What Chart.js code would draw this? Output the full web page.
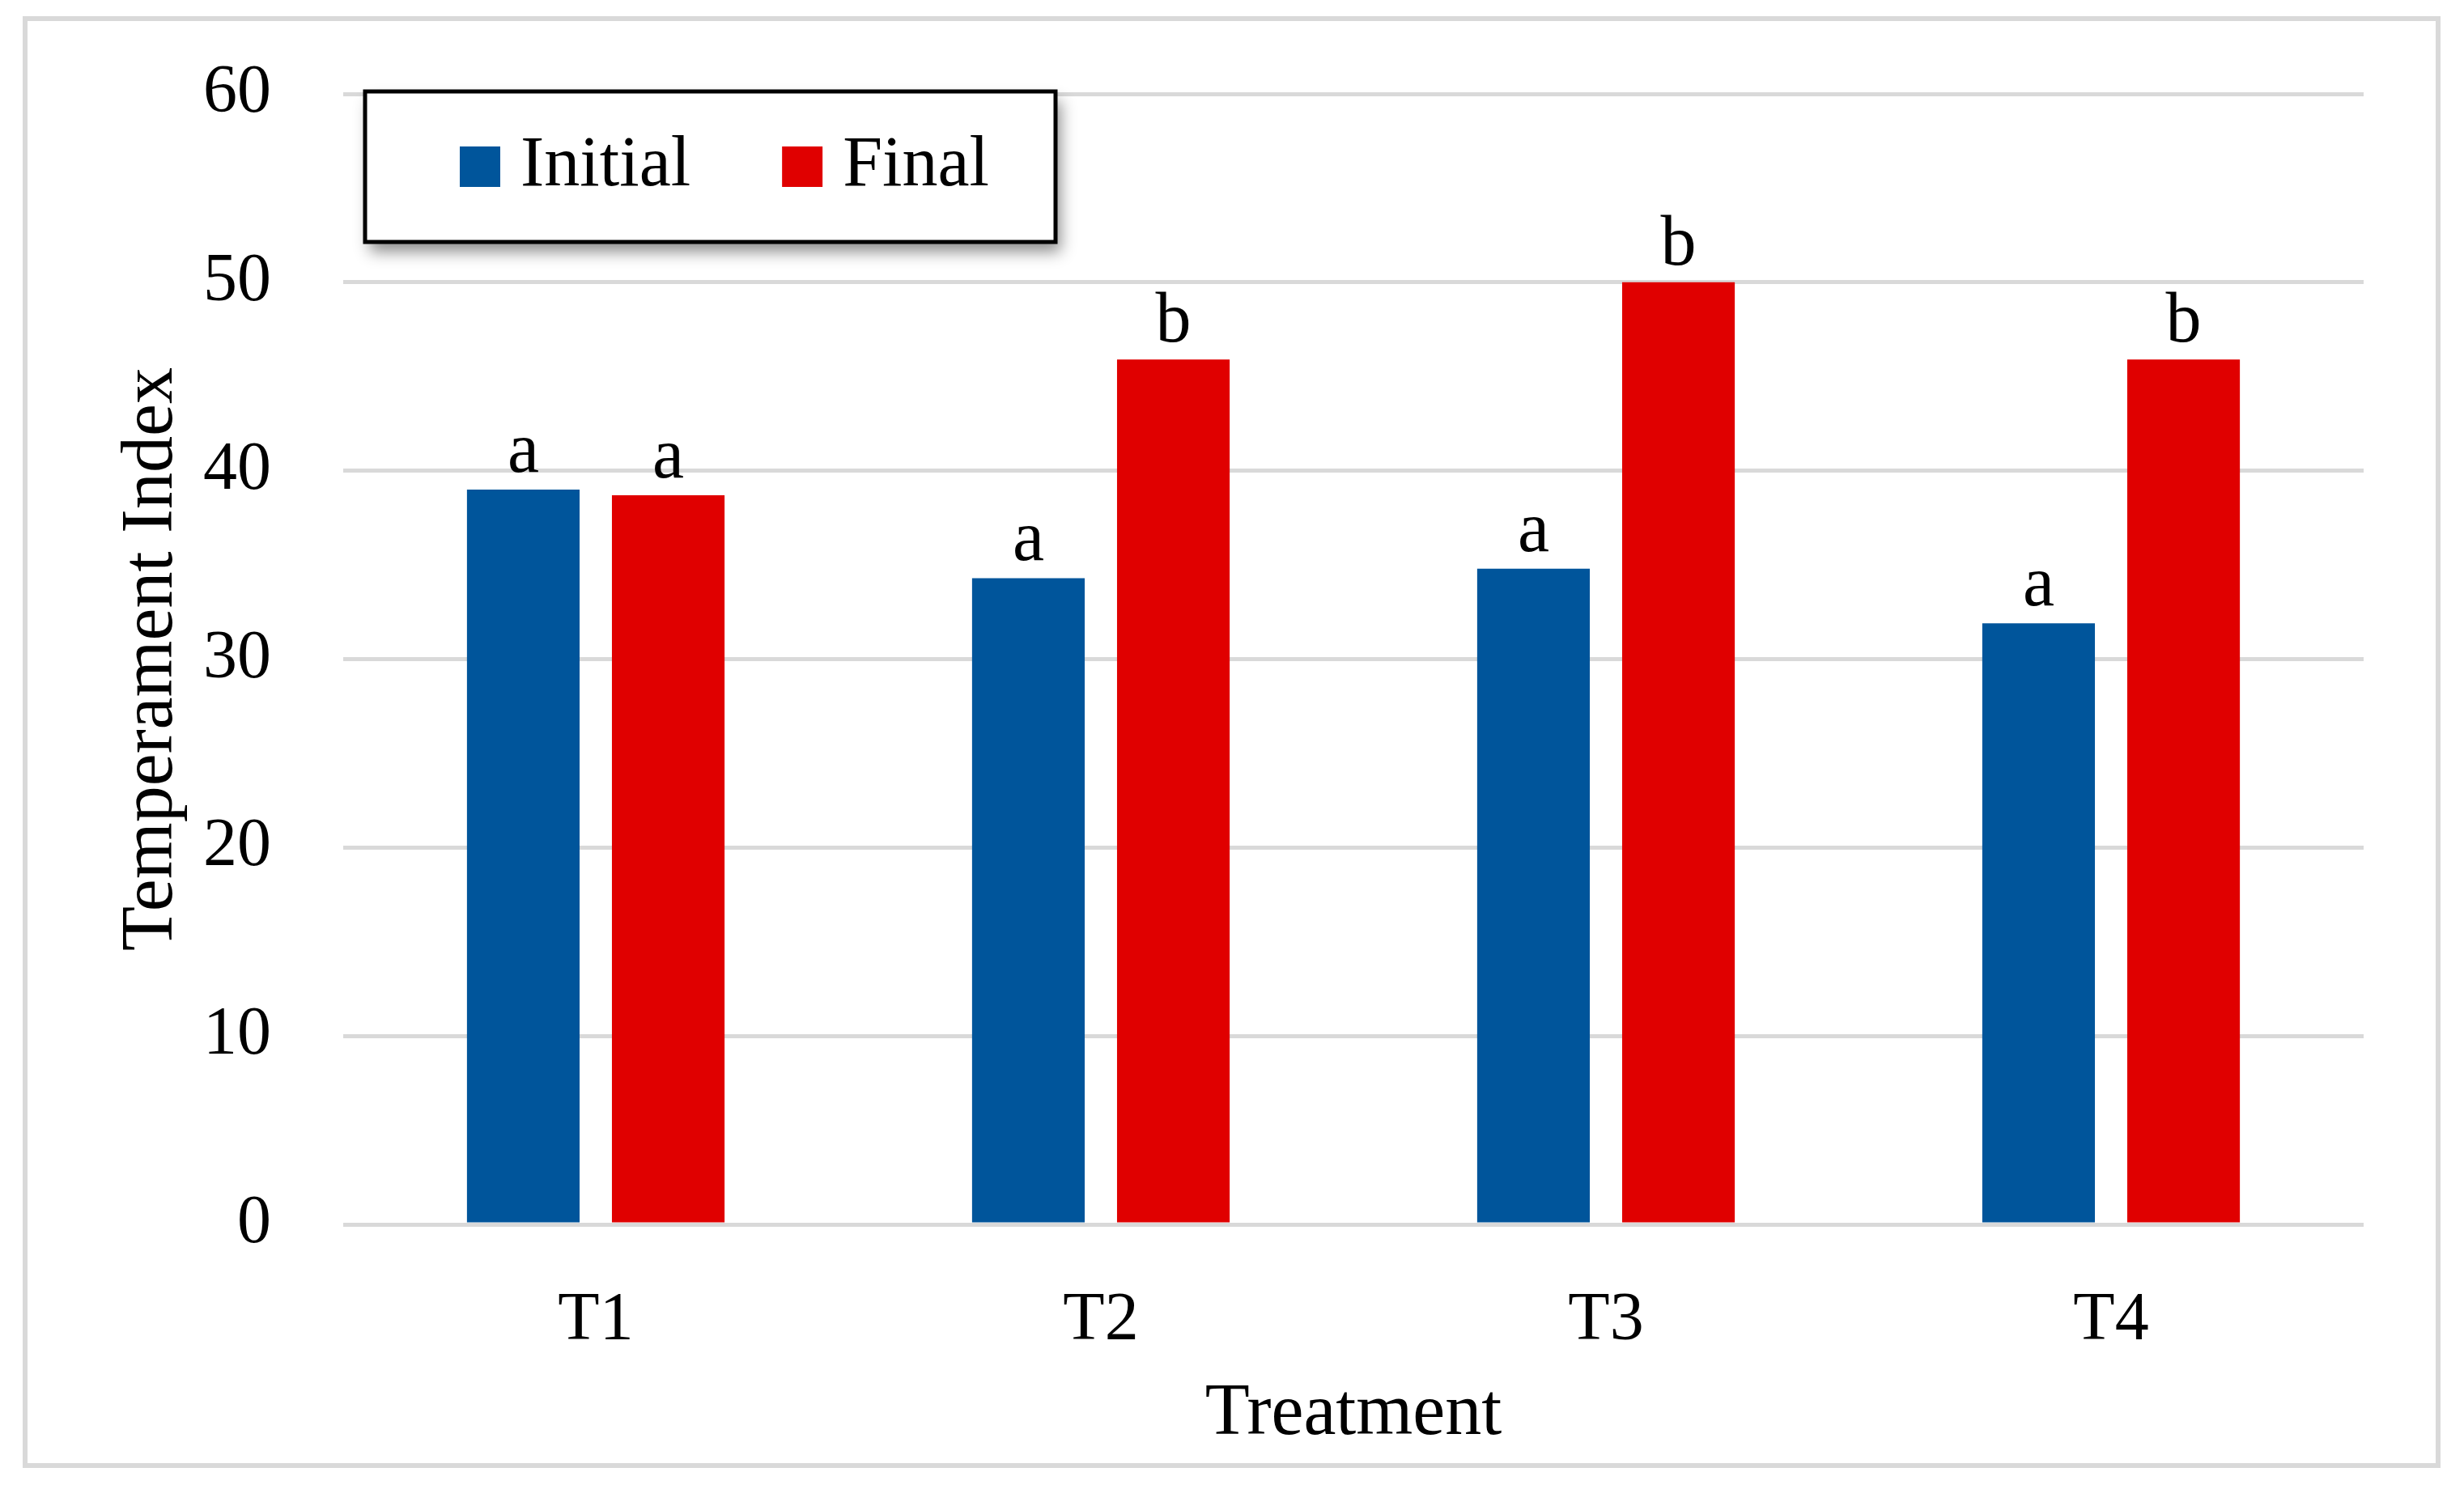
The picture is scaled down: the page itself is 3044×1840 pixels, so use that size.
<!DOCTYPE html>
<html>
<head>
<meta charset="utf-8">
<script src="https://cdn.jsdelivr.net/npm/chart.js@4.4.1/dist/chart.umd.min.js"></script>
<style>
  html, body { margin: 0; padding: 0; background: #ffffff; }
  canvas { display: block; }
</style>
</head>
<body>
<canvas id="barChart" width="3044" height="1840"></canvas>
<script>
// values
const treatments = ['T1', 'T2', 'T3', 'T4'];
const initialValues = [39.0, 34.3, 34.8, 31.9];
const finalValues = [38.7, 45.9, 50.0, 45.9];
const initialLetters = ['a', 'a', 'a', 'a'];
const finalLetters = ['a', 'b', 'b', 'b'];
const yTicks = [0, 10, 20, 30, 40, 50, 60];

const FONT = '"Liberation Serif", "DejaVu Serif", serif';
const BLUE = '#00559b';
const RED = '#e00000';
const GRID = '#d9d9d9';

// outer light grey frame + white background
const framePlugin = {
    id: 'frame',
    beforeDraw(chart) {
        const ctx = chart.ctx;
        ctx.save();
        ctx.fillStyle = '#ffffff';
        ctx.fillRect(0, 0, chart.width, chart.height);
        ctx.strokeStyle = GRID;
        ctx.lineWidth = 6;
        ctx.strokeRect(31, 23, 2981, 1788);
        ctx.restore();
    }
};

// significance letters above each bar
const letterPlugin = {
    id: 'letters',
    afterDatasetsDraw(chart) {
        const ctx = chart.ctx;
        const letters = [initialLetters, finalLetters];
        ctx.save();
        ctx.font = '88px ' + FONT;
        ctx.fillStyle = '#000000';
        ctx.textAlign = 'center';
        ctx.textBaseline = 'alphabetic';
        chart.data.datasets.forEach((ds, i) => {
            chart.getDatasetMeta(i).data.forEach((bar, j) => {
                ctx.fillText(letters[i][j], bar.x, bar.y - 22);
            });
        });
        ctx.restore();
    }
};

// boxed legend with shadow sitting inside the plot
const boxLegendPlugin = {
    id: 'boxLegend',
    afterDraw(chart) {
        const ctx = chart.ctx;
        const box = {x: 451, y: 113, w: 853, h: 186};
        ctx.save();
        ctx.shadowColor = 'rgba(0,0,0,0.45)';
        ctx.shadowBlur = 18;
        ctx.shadowOffsetX = 6;
        ctx.shadowOffsetY = 12;
        ctx.fillStyle = '#ffffff';
        ctx.fillRect(box.x, box.y, box.w, box.h);
        ctx.shadowColor = 'transparent';
        ctx.strokeStyle = '#000000';
        ctx.lineWidth = 5;
        ctx.strokeRect(box.x, box.y, box.w, box.h);

        ctx.font = '88px ' + FONT;
        ctx.textBaseline = 'middle';
        ctx.textAlign = 'left';
        const cy = box.y + box.h / 2;
        let x = box.x + 117;
        chart.data.datasets.forEach(ds => {
            ctx.fillStyle = ds.backgroundColor;
            ctx.fillRect(x, cy - 25, 50, 50);
            ctx.fillStyle = '#000000';
            ctx.fillText(ds.label, x + 75, cy);
            x += 75 + ctx.measureText(ds.label).width + 113;
        });
        ctx.restore();
    }
};

const config = {
    type: 'bar',
    data: {
        labels: treatments,
        datasets: [
            {label: 'Initial', data: initialValues, backgroundColor: BLUE},
            {label: 'Final', data: finalValues, backgroundColor: RED}
        ]
    },
    options: {
        responsive: false,
        animation: false,
        devicePixelRatio: 1,
        layout: {
            padding: {left: 130, right: 124, top: 116, bottom: 34}
        },
        datasets: {
            bar: {categoryPercentage: 0.574, barPercentage: 0.777}
        },
        plugins: {
            legend: {display: false},
            tooltip: {enabled: false}
        },
        scales: {
            x: {
                grid: {display: false, drawTicks: false},
                border: {display: false},
                ticks: {
                    color: '#000000',
                    font: {family: FONT, size: 84},
                    padding: 70
                },
                title: {
                    display: true,
                    text: 'Treatment',
                    color: '#000000',
                    font: {family: FONT, size: 90}
                },
                afterFit(scale) { scale.height = 293; }
            },
            y: {
                min: 0,
                max: 60,
                afterBuildTicks(scale) { scale.ticks = yTicks.map(v => ({value: v})); },
                grid: {color: GRID, lineWidth: 5, drawTicks: false},
                border: {display: false},
                ticks: {
                    color: '#000000',
                    font: {family: FONT, size: 84},
                    padding: 89
                },
                title: {
                    display: true,
                    text: 'Temperament Index',
                    color: '#000000',
                    font: {family: FONT, size: 90}
                },
                afterFit(scale) {
                    scale.width = 294;
                    scale.paddingTop = 0;
                    scale.paddingBottom = 0;
                }
            }
        }
    },
    plugins: [framePlugin, letterPlugin, boxLegendPlugin]
};

window.barChart = new Chart(document.getElementById('barChart').getContext('2d'), config);
</script>
</body>
</html>
